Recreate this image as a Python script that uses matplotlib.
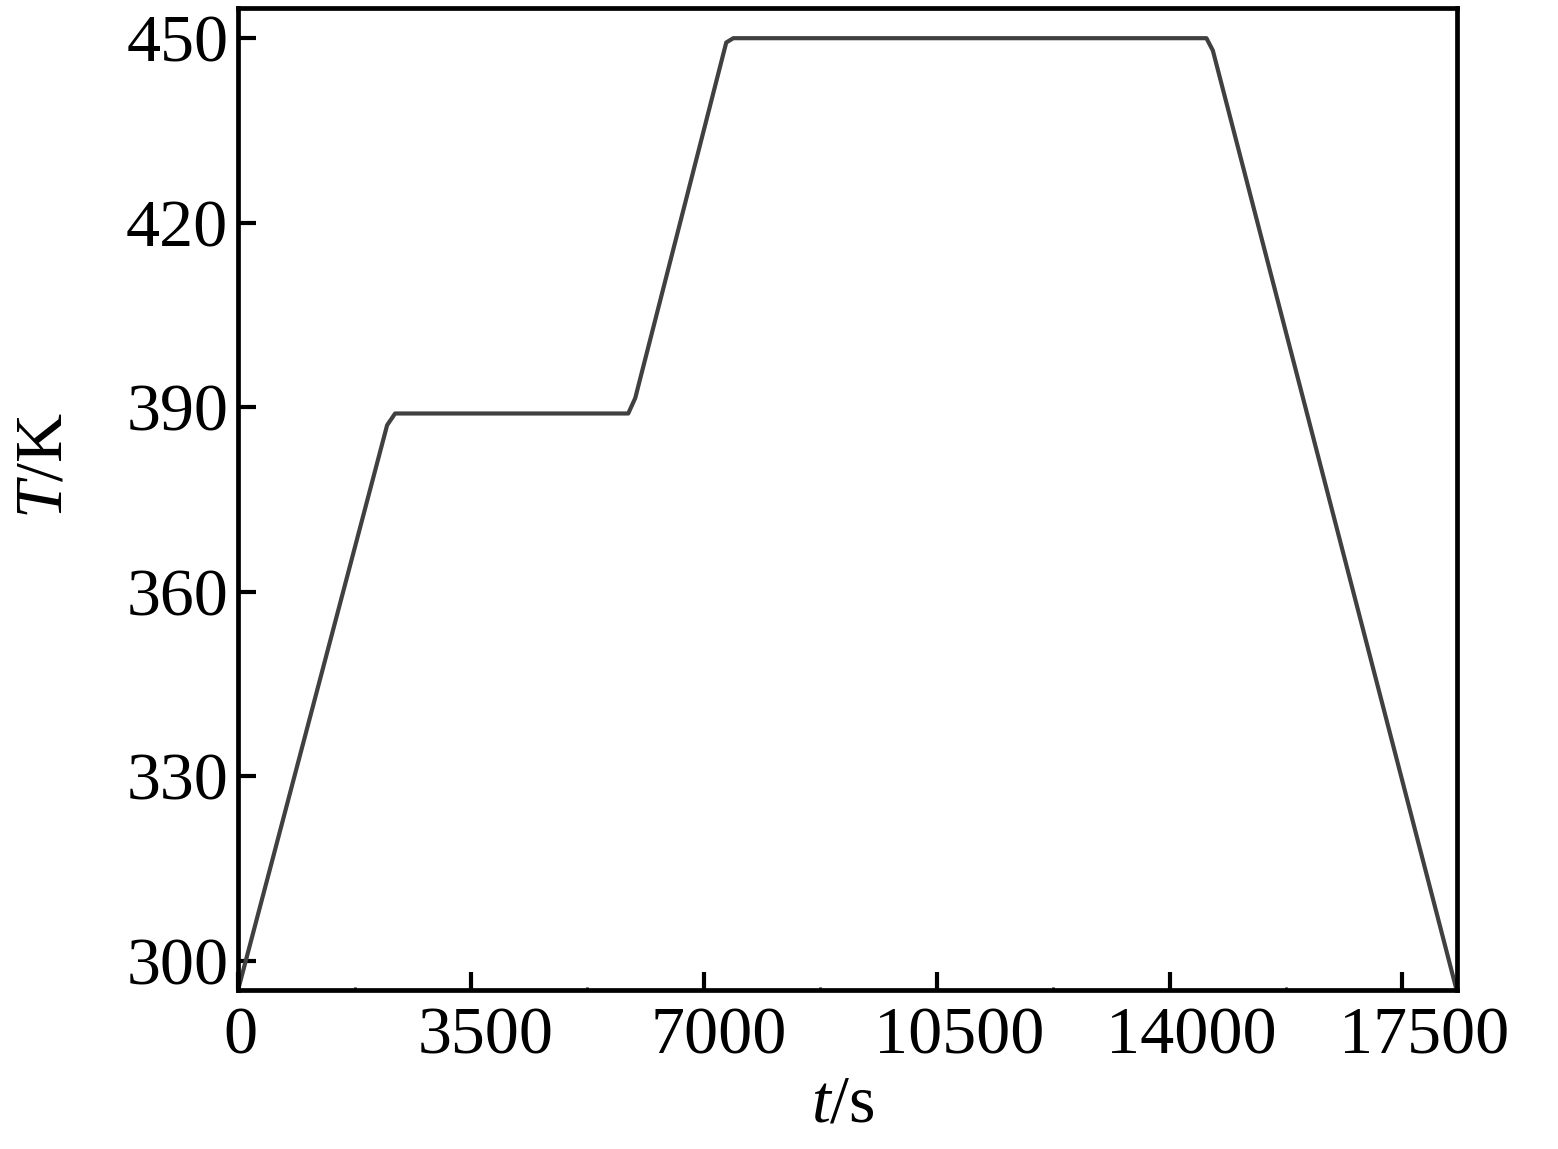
import matplotlib
matplotlib.use("Agg")
import matplotlib.pyplot as plt
from matplotlib.ticker import MultipleLocator
from matplotlib.transforms import ScaledTranslation

# Data
t_s = [0, 2240, 2360, 5864, 5969, 7337, 7443, 14554, 14650, 18313]
T_K = [295.3, 387.1, 389.0, 389.0, 391.5, 449.3, 450.0, 450.0, 448.0, 295.3]
x_ticks = [0, 3500, 7000, 10500, 14000, 17500]
y_ticks = [300, 330, 360, 390, 420, 450]

plt.rcParams['font.family'] = ['Liberation Serif', 'DejaVu Serif']
plt.rcParams['mathtext.fontset'] = 'custom'
plt.rcParams['mathtext.rm'] = 'Liberation Serif'
plt.rcParams['mathtext.it'] = 'Liberation Serif:italic'

fig = plt.figure(figsize=(15.58, 11.49), dpi=100)
ax = fig.add_axes([0.1528, 0.1384, 0.9352 - 0.1528, 0.993 - 0.1384])

ax.plot(t_s, T_K, color='#404040', lw=3.0, solid_joinstyle='round')

ax.set_xlim(0, 18320)
ax.set_ylim(295.3, 454.9)
ax.set_xticks(x_ticks)
ax.set_yticks(y_ticks)
ax.xaxis.set_minor_locator(MultipleLocator(1750))

for s in ax.spines.values():
    s.set_linewidth(3.4)
ax.tick_params(axis='both', which='major', direction='in', length=13, width=3,
               labelsize=49)
ax.tick_params(axis='x', which='major', pad=12)
ax.tick_params(axis='y', which='major', pad=7)
ax.tick_params(axis='x', which='minor', direction='in', length=2, width=2)
ax.tick_params(axis='y', which='minor', length=0)

ax.set_xlabel(r'$\mathit{t}$/s', fontsize=49)
ax.set_ylabel(r'$\mathit{T}$/K', fontsize=49)
ax.xaxis.set_label_coords((843 - 238) / 1219, -(1105 - 990) / 982)
ax.yaxis.set_label_coords(-(238 - 45) / 1219, (990 - 465) / 982)
ax.xaxis.label.set_va('center')
ax.yaxis.label.set_va('center')

fig.canvas.draw()
shift_px = {1: 2, 4: 15, 5: 22}
for lab in ax.get_xticklabels():
    n = len(lab.get_text())
    dx = shift_px.get(n, 15) / fig.dpi
    lab.set_transform(lab.get_transform() + ScaledTranslation(dx, 0, fig.dpi_scale_trans))

fig.savefig('out.png', dpi=100)
